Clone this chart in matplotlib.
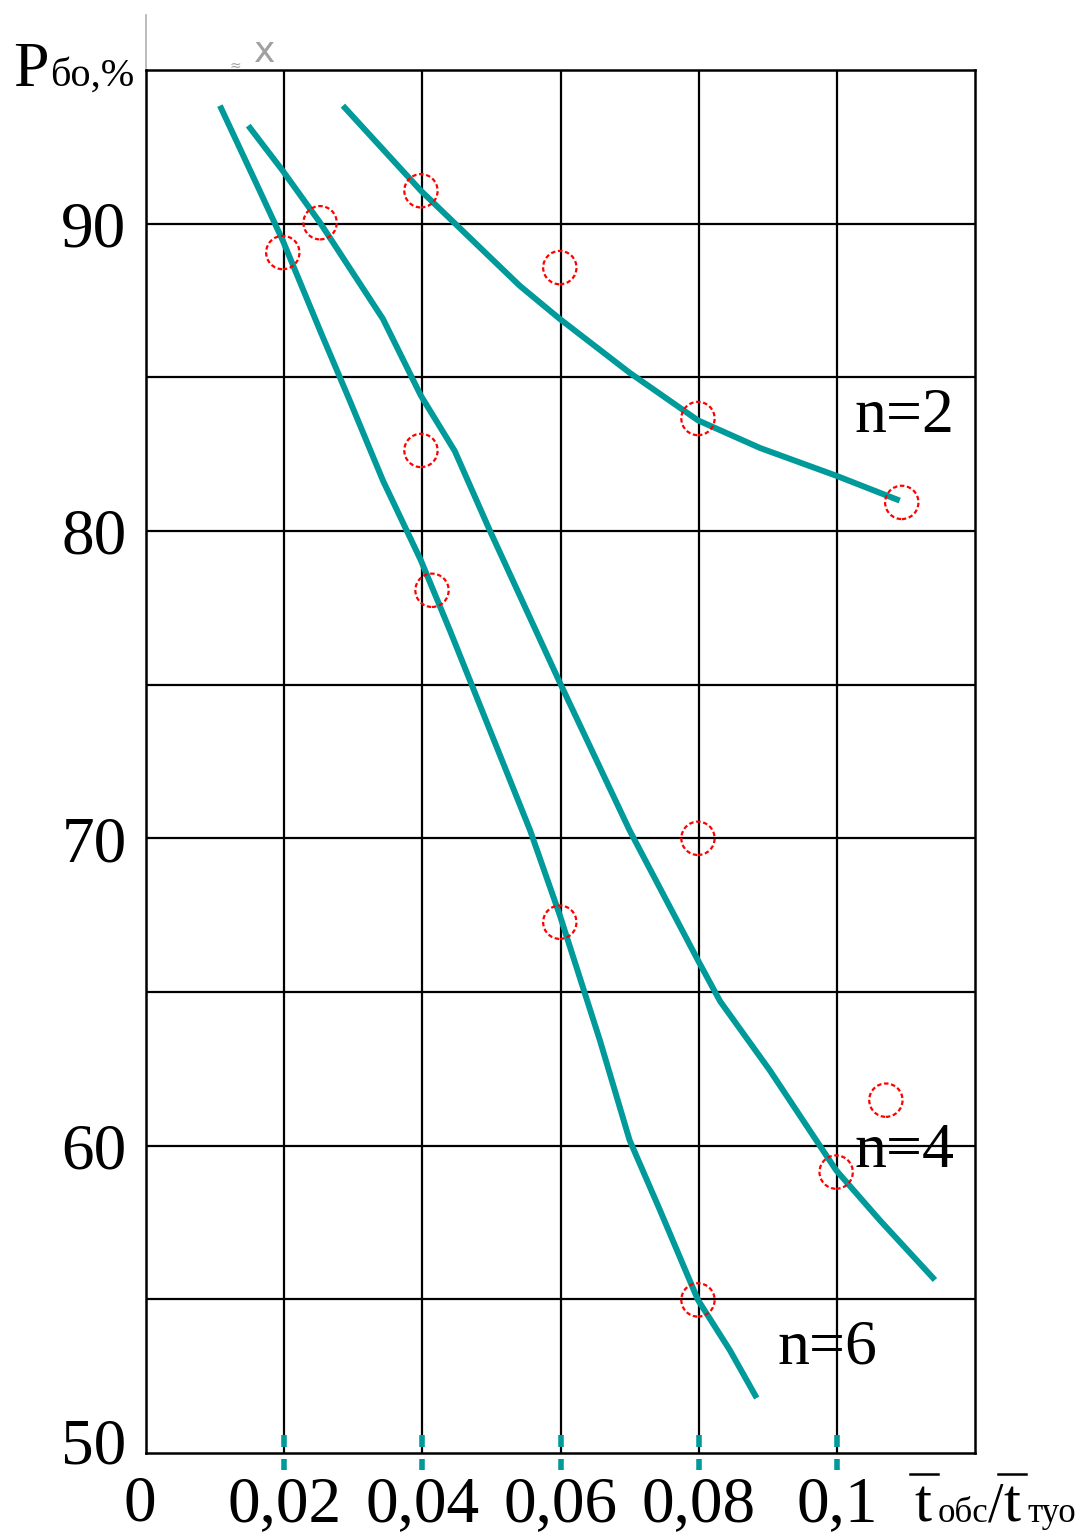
import numpy as np
import matplotlib.pyplot as plt
from matplotlib.transforms import ScaledTranslation

# кривые (ось x - t_обс/t_туо, ось y - P_бо, %)
n2_x = [0.0285, 0.0398, 0.0541, 0.0599, 0.070, 0.0799, 0.0889, 0.0999, 0.1091]
n2_y = [93.84, 91.07, 87.98, 86.9, 85.15, 83.6, 82.7, 81.8, 80.99]
n4_x = [0.0148, 0.0198, 0.0252, 0.0343, 0.0398, 0.0447, 0.0498, 0.0599, 0.070,
        0.0799, 0.0831, 0.0903, 0.0999, 0.1062, 0.1142]
n4_y = [93.19, 91.72, 90.03, 86.9, 84.4, 82.6, 80.0, 75.07, 70.26,
        66.03, 64.7, 62.45, 59.2, 57.58, 55.63]
n6_x = [0.0107, 0.0165, 0.0198, 0.0252, 0.0295, 0.0343, 0.0398, 0.044, 0.0498,
        0.0556, 0.0599, 0.0657, 0.070, 0.0744, 0.0799, 0.0845, 0.0884]
n6_y = [93.84, 91.05, 89.45, 86.52, 84.24, 81.64, 79.04, 76.76, 73.51,
        70.26, 67.5, 63.43, 60.18, 57.9, 54.98, 53.35, 51.79]

# экспериментальные точки
pts_x = [0.0398, 0.0599, 0.0799, 0.1094,
         0.0252, 0.0398, 0.0799, 0.0999, 0.1071,
         0.0198, 0.0414, 0.0599, 0.0799]
pts_y = [91.07, 88.57, 83.66, 80.93,
         90.03, 82.62, 70.0, 59.14, 61.48,
         89.06, 78.07, 67.27, 54.98]

x_ticks = [0, 0.02, 0.04, 0.06, 0.08, 0.1]
x_labels = ['0', '0,02', '0,04', '0,06', '0,08', '0,1']
y_ticks = [50, 60, 70, 80, 90]
y_labels = ['50', '60', '70', '80', '90']

W, H = 1078, 1537
plt.rcParams['font.family'] = ['Liberation Serif', 'DejaVu Serif']
fig = plt.figure(figsize=(W / 100, H / 100), dpi=100)
ax = fig.add_axes([146 / W, 1 - 1453 / H, (975 - 146) / W, (1453 - 70) / H])
ax.set_xlim(0, 0.12)
ax.set_ylim(50, 95)

# сетка
for gx in np.arange(0.02, 0.12, 0.02):
    ax.axvline(gx, color='black', lw=1.6, zorder=1)
for gy in np.arange(55, 95, 5):
    ax.axhline(gy, color='black', lw=1.6, zorder=1)
for s in ax.spines.values():
    s.set_linewidth(1.8)

teal = '#009a9a'
for xs, ys in [(n2_x, n2_y), (n4_x, n4_y), (n6_x, n6_y)]:
    ax.plot(xs, ys, color=teal, lw=4.3, solid_capstyle='butt', zorder=3)

ax.scatter(pts_x, pts_y, s=24 ** 2, facecolors='none', edgecolors='red',
           linewidths=1.6, linestyle=(0, (2, 1.2)), zorder=4)

# бирюзовые штрихи на оси x
for tx in x_ticks[1:]:
    ax.vlines(tx, 49.45, 49.8, color=teal, lw=4, clip_on=False, zorder=5)
    ax.vlines(tx, 50.2, 50.6, color=teal, lw=4, clip_on=False, zorder=5)

ax.set_xticks(x_ticks)
ax.set_xticklabels(x_labels, fontsize=47)
ax.set_yticks(y_ticks)
ax.set_yticklabels(y_labels, fontsize=47)
ax.tick_params(length=0)
ax.tick_params(axis='x', pad=16)
ax.tick_params(axis='y', pad=14)
xl = ax.get_xticklabels()
xl[0].set_transform(xl[0].get_transform() + ScaledTranslation(-6 / 100, 0, fig.dpi_scale_trans))
yl = ax.get_yticklabels()
yl[0].set_transform(yl[0].get_transform() + ScaledTranslation(0, 12 / 100, fig.dpi_scale_trans))

ax.text(0.1098, 83.7, 'n=2', fontsize=46, ha='center', va='center')
ax.text(0.1098, 59.8, 'n=4', fontsize=46, ha='center', va='center')
ax.text(0.0987, 53.4, 'n=6', fontsize=46, ha='center', va='center')

# подпись оси y
fig.text(13 / W, 1 - 86 / H, 'P', fontsize=46, ha='left', va='baseline')
fig.text(50 / W, 1 - 86 / H, 'бо,%', fontsize=29, ha='left', va='baseline')
fig.add_artist(plt.Line2D([146 / W, 146 / W], [1 - 15 / H, 1 - 68 / H],
                          color='#b0b0b0', lw=1.2))
fig.text(265 / W, 1 - 52 / H, 'x', fontsize=26, color='#a0a0a0',
         ha='center', va='center', family='DejaVu Sans')
fig.text(235 / W, 1 - 66 / H, '≈', fontsize=10, color='#a0a0a0',
         ha='center', va='center', family='DejaVu Sans')

# подпись оси x
base = 1 - 1522 / H
fig.text(914 / W, base, 't', fontsize=44, ha='left', va='baseline')
fig.text(938 / W, base, 'обс', fontsize=25, ha='left', va='baseline')
fig.text(988 / W, base, '/', fontsize=40, ha='left', va='baseline')
fig.text(1003 / W, base, 't', fontsize=44, ha='left', va='baseline')
fig.text(1027 / W, base, 'туо', fontsize=25, ha='left', va='baseline')
for x0, x1 in [(910, 938), (998, 1026)]:
    fig.add_artist(plt.Line2D([x0 / W, x1 / W], [1 - 1474 / H, 1 - 1474 / H],
                              color='black', lw=1.8))

fig.savefig('out.png', dpi=100)
